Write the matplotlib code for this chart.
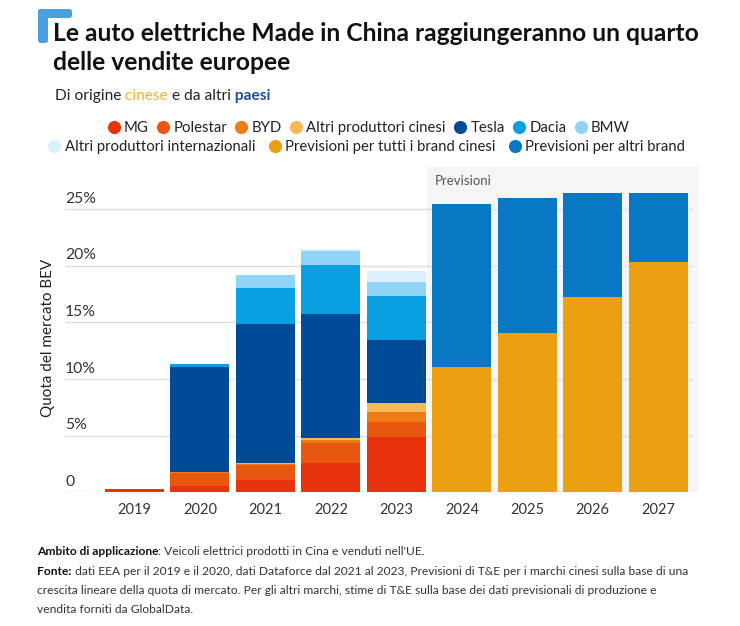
import matplotlib
matplotlib.use("Agg")
import matplotlib.pyplot as plt
from matplotlib.patches import FancyBboxPatch, Rectangle
from matplotlib.lines import Line2D
from matplotlib.transforms import ScaledTranslation

plt.rcParams['font.family'] = ['Lato', 'DejaVu Sans']

years = ["2019", "2020", "2021", "2022", "2023", "2024", "2025", "2026", "2027"]

# quota del mercato BEV (%)
mg = [0.32, 0.58, 1.10, 2.56, 4.91, 0, 0, 0, 0]
polestar = [0, 1.10, 1.31, 1.82, 1.32, 0, 0, 0, 0]
byd = [0, 0.09, 0.10, 0.20, 0.88, 0, 0, 0, 0]
altri_cinesi = [0, 0, 0.10, 0.18, 0.80, 0, 0, 0, 0]
tesla = [0, 9.32, 12.24, 10.98, 5.53, 0, 0, 0, 0]
dacia = [0, 0.23, 3.18, 4.35, 3.91, 0, 0, 0, 0]
bmw = [0, 0, 1.12, 1.24, 1.18, 0, 0, 0, 0]
altri_internazionali = [0, 0, 0, 0.17, 1.00, 0, 0, 0, 0]
prev_cinesi = [0, 0, 0, 0, 0, 11.03, 14.03, 17.24, 20.30]
prev_altri = [0, 0, 0, 0, 0, 14.39, 11.92, 9.15, 6.09]

series = [
    ("MG", mg, "#e8330c"),
    ("Polestar", polestar, "#e9560f"),
    ("BYD", byd, "#ee7c14"),
    ("Altri produttori cinesi", altri_cinesi, "#f6b955"),
    ("Tesla", tesla, "#004a98"),
    ("Dacia", dacia, "#0a9fe0"),
    ("BMW", bmw, "#8fd4f7"),
    ("Altri produttori internazionali", altri_internazionali, "#dcf0fb"),
    ("Previsioni per tutti i brand cinesi", prev_cinesi, "#eba012"),
    ("Previsioni per altri brand", prev_altri, "#0878c5"),
]

yticks = [0, 5, 10, 15, 20, 25]
ytick_labels = ["0", "5%", "10%", "15%", "20%", "25%"]

W, H = 740, 626
fig = plt.figure(figsize=(W / 100, H / 100), dpi=100)
fig.patch.set_facecolor("white")


def fx(px):
    return px / W


def fy(py):
    return 1 - py / H


ax = fig.add_axes([fx(65), fy(492.3), fx(693) - fx(65), (492.3 - 167) / H])

x = list(range(len(years)))
bottom = [0.0] * len(years)
for name, vals, col in series:
    ax.bar(x, vals, width=0.9, bottom=bottom, color=col, label=name, zorder=2)
    bottom = [b + v for b, v in zip(bottom, vals)]

ax.set_xlim(-1.06, 8.53)
ax.set_ylim(0, 28.71)

# area previsioni
ax.add_patch(Rectangle((4.47, 0), 8.62 - 4.47, 28.71, facecolor="#f5f5f5",
                       edgecolor="none", zorder=0.1, clip_on=False))
ax.text(4.58, 27.45, "Previsioni", fontsize=9.5, color="#555555", va="center", zorder=3)

for s in ax.spines.values():
    s.set_visible(False)
ax.set_axisbelow(True)
ax.yaxis.grid(True, color="#dedede", linewidth=1)
ax.set_yticks(yticks)
ax.set_yticklabels(ytick_labels)
ax.tick_params(axis="y", length=0, pad=0, labelsize=11.3, labelcolor="#333333")
off = ScaledTranslation(0, 2.5 / 72, fig.dpi_scale_trans)
for lbl in ax.get_yticklabels():
    lbl.set_horizontalalignment("left")
    lbl.set_verticalalignment("bottom")
    lbl.set_transform(lbl.get_transform() + off)
ax.set_xticks(x)
ax.set_xticklabels(years)
ax.tick_params(axis="x", length=0, pad=8, labelsize=10.5, labelcolor="#333333")

fig.text(fx(48), fy(338), "Quota del mercato BEV", rotation=90, fontsize=11,
         color="#222222", ha="center", va="center")

# icona titolo
fig.patches.append(FancyBboxPatch((fx(38), fy(43)), fx(10), (43 - 9) / H,
                                  boxstyle="round,pad=0,rounding_size=0.004",
                                  transform=fig.transFigure, facecolor="#4a9fe0",
                                  edgecolor="none"))
fig.patches.append(FancyBboxPatch((fx(38), fy(18)), fx(34), 9 / H,
                                  boxstyle="round,pad=0,rounding_size=0.004",
                                  transform=fig.transFigure, facecolor="#4a9fe0",
                                  edgecolor="none"))

fig.text(fx(53), fy(41), "Le auto elettriche Made in China raggiungeranno un quarto",
         fontsize=17.7, fontweight="bold", color="#111111", va="baseline")
fig.text(fx(53), fy(70), "delle vendite europee",
         fontsize=17.7, fontweight="bold", color="#111111", va="baseline")


def rich_line(xpx, ypx, parts, size):
    renderer = fig.canvas.get_renderer()
    xf = fx(xpx)
    for txt, weight, col in parts:
        t = fig.text(xf, fy(ypx), txt, fontsize=size, fontweight=weight,
                     color=col, va="baseline")
        bb = t.get_window_extent(renderer)
        xf = bb.x1 / fig.bbox.width


rich_line(55, 100, [("Di origine", "normal", "#222222"),
                    (" cinese", "normal", "#f2b03c"),
                    (" e da altri", "normal", "#222222"),
                    (" paesi", "bold", "#1f4e9a")], 11.2)

handles = [Line2D([], [], marker="o", linestyle="none", markersize=9.5,
                  markerfacecolor=c, markeredgecolor="none", label=n)
           for n, v, c in series]
leg1 = fig.legend(handles=handles[:7], loc="center", bbox_to_anchor=(fx(368), fy(128)),
                  ncol=7, frameon=False, fontsize=10.7, handletextpad=0.2,
                  columnspacing=0.45, handlelength=1.0, borderpad=0)
leg2 = fig.legend(handles=handles[7:], loc="center", bbox_to_anchor=(fx(366), fy(147)),
                  ncol=3, frameon=False, fontsize=10.7, handletextpad=0.2,
                  columnspacing=0.8, handlelength=1.0, borderpad=0)
for leg in (leg1, leg2):
    for t in leg.get_texts():
        t.set_color("#222222")

fs = 8.65
rich_line(37, 555, [("Ambito di applicazione", "bold", "#111111"),
                    (": Veicoli elettrici prodotti in Cina e venduti nell'UE.", "normal", "#333333")], fs)
rich_line(37, 575, [("Fonte:", "bold", "#111111"),
                    (" dati EEA per il 2019 e il 2020, dati Dataforce dal 2021 al 2023, Previsioni di T&E "
                     "per i marchi cinesi sulla base di una", "normal", "#333333")], fs)
rich_line(37, 594, [("crescita lineare della quota di mercato. Per gli altri marchi, stime di T&E sulla base "
                     "dei dati previsionali di produzione e", "normal", "#333333")], fs)
rich_line(37, 613, [("vendita forniti da GlobalData.", "normal", "#333333")], fs)

fig.savefig("out.png", dpi=100)
